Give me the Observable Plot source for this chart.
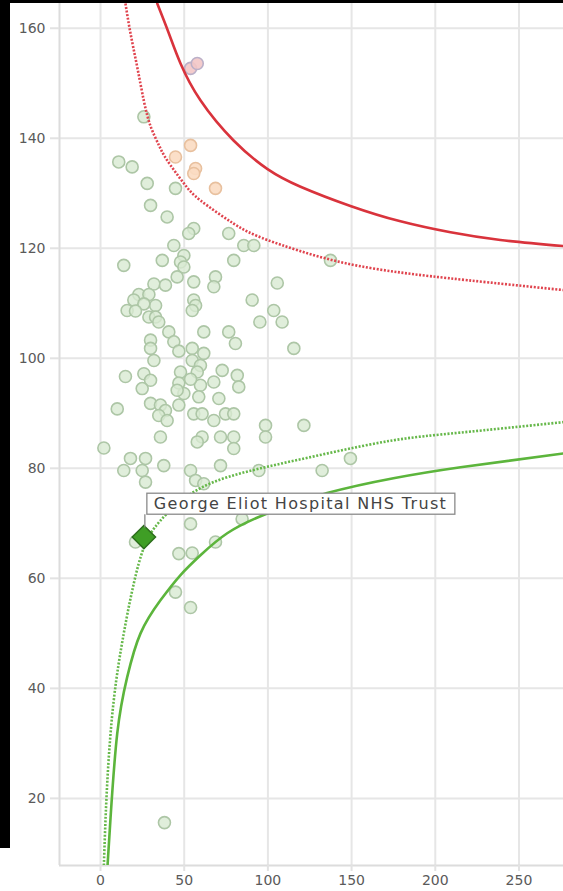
<!DOCTYPE html>
<html><head><meta charset="utf-8">
<script src="https://cdn.jsdelivr.net/npm/d3@7"></script>
<script src="https://cdn.jsdelivr.net/npm/@observablehq/plot@0.6"></script>
<style>
html,body{margin:0;padding:0;background:#fff;}
#wrap{position:relative;width:563px;height:891px;overflow:hidden;background:#fff;}
.blk{position:absolute;background:#000;}
</style></head><body>
<div id="wrap"><div id="chart"></div>
<div class="blk" style="left:0;top:0;width:10px;height:848px"></div>
<div class="blk" style="left:0;top:0;width:563px;height:3px"></div>
</div>
<script>
// Axes
const xDomain = [-24.5, 276.6];
const yDomain = [7.8, 164.5];
const xTicks = [0, 50, 100, 150, 200, 250];
const yTicks = [20, 40, 60, 80, 100, 120, 140, 160];

// Trusts within limits (expected, ratio)
const greenX = [25.9,10.9,18.9,27.9,44.8,29.9,39.8,55.7,52.7,76.6,85.6,91.6,137.4,43.8,49.8,36.9,47.8,13.9,79.6,49.8,68.7,105.6,45.8,31.9,55.7,38.8,67.7,22.9,28.9,19.9,32.9,25.9,15.9,20.9,55.7,56.8,54.8,90.6,103.5,108.5,95.2,28.9,32.9,34.8,40.8,61.7,76.6,80.6,115.5,29.9,29.9,43.8,46.8,54.8,61.7,31.9,54.8,59.7,14.9,25.9,29.9,24.9,47.8,46.8,49.8,57.8,59.7,67.7,72.7,81.7,82.6,58.7,70.7,29.9,35.8,46.8,38.8,10.0,34.8,39.8,55.7,60.7,67.7,74.7,79.6,98.6,121.5,98.6,35.8,60.7,71.7,79.6,57.8,79.6,2.0,17.9,26.9,37.8,13.9,24.9,53.8,71.7,94.6,132.4,149.3,26.9,56.8,61.7,53.8,20.9,46.8,54.8,68.7,84.6,44.8,53.8,38.2,53.8,45.8];
const greenY = [143.9,135.7,134.8,131.8,130.9,127.8,125.7,123.6,122.7,122.7,120.5,120.5,117.8,120.5,118.7,117.8,117.5,116.9,117.8,116.6,114.8,113.7,114.8,113.5,113.9,113.3,113.0,111.6,111.6,110.6,109.6,109.9,108.7,108.6,110.6,109.6,108.7,110.6,108.7,106.6,106.6,107.5,107.5,106.6,104.8,104.8,104.8,102.7,101.8,103.3,101.8,103.0,101.3,101.8,100.9,99.6,99.6,98.7,96.7,97.2,96.0,94.5,97.5,95.5,93.6,97.5,95.1,95.7,97.8,96.9,94.8,93.0,92.7,91.8,91.5,91.5,90.5,90.8,89.6,88.7,89.9,89.9,88.7,89.9,89.9,87.8,87.8,85.7,85.7,85.7,85.7,85.7,84.8,83.6,83.7,81.8,81.8,80.5,79.6,79.6,79.6,80.5,79.6,79.6,81.8,77.5,77.8,77.2,69.9,66.6,64.5,64.6,66.6,70.8,57.5,54.7,15.6,96.2,94.2];

// Trusts above the 95% limit
const amberX = [53.8, 44.8, 56.8, 55.7, 68.7];
const amberY = [138.7, 136.6, 134.5, 133.6, 130.9];

// Trusts above the 99.8% limit
const redX = [53.8, 57.8];
const redY = [152.7, 153.6];

// Highlighted trust
const focusName = "George Eliot Hospital NHS Trust";
const focusX = [25.9];
const focusY = [67.5];

// Control limits
const upper998X = [33.9,40.8,47.8,59.7,79.5,99.8,119.5,149.3,179.2,209.1,238.9,276.6];
const upper998Y = [164.5,159.1,153.6,146.9,139.6,134.4,131.2,127.7,124.9,122.9,121.5,120.4];
const upper95X = [14.9,17.9,21.9,25.9,29.9,34.8,39.8,49.8,59.7,79.5,99.8,139.2,179.2,219.2,276.6];
const upper95Y = [164.5,159.1,153.0,146.8,142.2,138.8,136.0,131.8,128.7,124.5,121.5,117.8,115.6,114.2,112.4];
const lower998X = [4.2,6.0,10.0,15.9,23.9,35.8,47.8,59.7,75.7,99.6,135.4,175.0,215.1,276.6];
const lower998Y = [7.8,16.5,31.8,42.0,50.0,56.0,60.6,64.2,68.2,71.8,75.5,78.2,80.2,82.7];
const lower95X = [2.0,4.0,7.9,13.9,19.9,25.9,35.8,59.7,95.6,135.4,175.0,215.1,276.6];
const lower95Y = [7.8,22.7,37.8,50.0,59.1,65.6,70.5,76.4,80.0,82.7,85.1,86.5,88.4];

const zip = (xs, ys) => xs.map((x, i) => ({x, y: ys[i]}));
const green = zip(greenX, greenY);
const amber = zip(amberX, amberY);
const red = zip(redX, redY);
const focus = focusX.map((x, i) => ({x, y: focusY[i], name: focusName}));

const gridStyle = {stroke: "#e6e6e6", strokeOpacity: 1, strokeWidth: 2};
const dotted = {strokeWidth: 2.6, strokeDasharray: "2,1.6", strokeLinecap: "butt", curve: "natural", clip: true};
const solid = {strokeWidth: 2.6, curve: "natural", clip: true};

const plot = Plot.plot({
  width: 563,
  height: 891,
  marginLeft: 59,
  marginRight: 0,
  marginTop: 3,
  marginBottom: 26,
  style: {fontFamily: "DejaVu Sans", fontSize: "14px", background: "#fff", overflow: "visible"},
  x: {domain: xDomain, axis: null},
  y: {domain: yDomain, axis: null},
  marks: [
    Plot.gridX(xTicks, gridStyle),
    Plot.gridY(yTicks, gridStyle),
    Plot.ruleX([xDomain[0]], {stroke: "#dcdcdc", strokeWidth: 2}),
    Plot.ruleY([yDomain[0]], {stroke: "#dcdcdc", strokeWidth: 2}),
    Plot.axisX(xTicks, {tickSize: 6, tickPadding: 4, stroke: "#e2e2e2", strokeWidth: 2, fill: "#5a5a5a", fontSize: 14, label: null}),
    Plot.axisY(yTicks, {tickSize: 9, tickPadding: 5, stroke: "#e2e2e2", strokeWidth: 2, fill: "#5a5a5a", fontSize: 14, label: null}),
    Plot.dot(green, {x: "x", y: "y", r: 6, fill: "#d8ead2", fillOpacity: 0.8, stroke: "#adc6a6", strokeWidth: 1.6}),
    Plot.dot(amber, {x: "x", y: "y", r: 6, fill: "#fbdcc2", fillOpacity: 0.9, stroke: "#e8c09e", strokeWidth: 1.6}),
    Plot.dot(red, {x: "x", y: "y", r: 6, fill: "#f3c6c6", fillOpacity: 0.9, stroke: "#bbb0c8", strokeWidth: 1.6}),
    Plot.line(zip(upper95X, upper95Y), {x: "x", y: "y", stroke: "#e0444e", ...dotted}),
    Plot.line(zip(upper998X, upper998Y), {x: "x", y: "y", stroke: "#d9333c", ...solid}),
    Plot.line(zip(lower95X, lower95Y), {x: "x", y: "y", stroke: "#66b84a", ...dotted}),
    Plot.line(zip(lower998X, lower998Y), {x: "x", y: "y", stroke: "#5cb53c", ...solid}),
    Plot.dot(focus, {x: "x", y: "y", symbol: "diamond2", r: 10.5, fill: "#3f9e25", stroke: "#2c6e1c", strokeWidth: 1.5}),
    Plot.text(focus, {x: "x", y: "y", text: "name", dx: 10, dy: -33, textAnchor: "start", lineAnchor: "middle", fontSize: 16, fill: "#444", fontFamily: "DejaVu Sans"})
  ]
});
document.getElementById("chart").appendChild(plot);

// Tooltip-style frame around the label, positioned from the scales
const sx = plot.scale("x"), sy = plot.scale("y");
const px = sx.apply(focus[0].x), py = sy.apply(focus[0].y);
const svgNode = plot;
const tnode = Array.from(svgNode.querySelectorAll("text")).find(t => t.textContent === focusName);
tnode.setAttribute("textLength", 292);
tnode.setAttribute("lengthAdjust", "spacing");
const bb = tnode.getBBox();
const m = tnode.getCTM();
const bx = m.a * bb.x + m.e, by = m.d * bb.y + m.f;
const bw = bb.width * m.a, bh = bb.height * m.d;
const gLabel = tnode.parentNode;
const ns = "http://www.w3.org/2000/svg";
const rect = document.createElementNS(ns, "rect");
rect.setAttribute("x", bx - 7);
rect.setAttribute("y", by - 1);
rect.setAttribute("width", bw + 16);
rect.setAttribute("height", bh + 2);
rect.setAttribute("fill", "#fff");
rect.setAttribute("stroke", "#8a8a8a");
rect.setAttribute("stroke-width", 1.3);
const conn = document.createElementNS(ns, "line");
conn.setAttribute("x1", px + 1.5);
conn.setAttribute("x2", px + 1.5);
conn.setAttribute("y1", py - 9);
conn.setAttribute("y2", by + bh + 1);
conn.setAttribute("stroke", "#8a8a8a");
conn.setAttribute("stroke-width", 1.3);
gLabel.parentNode.insertBefore(conn, gLabel);
gLabel.parentNode.insertBefore(rect, gLabel);
</script>
</body></html>
